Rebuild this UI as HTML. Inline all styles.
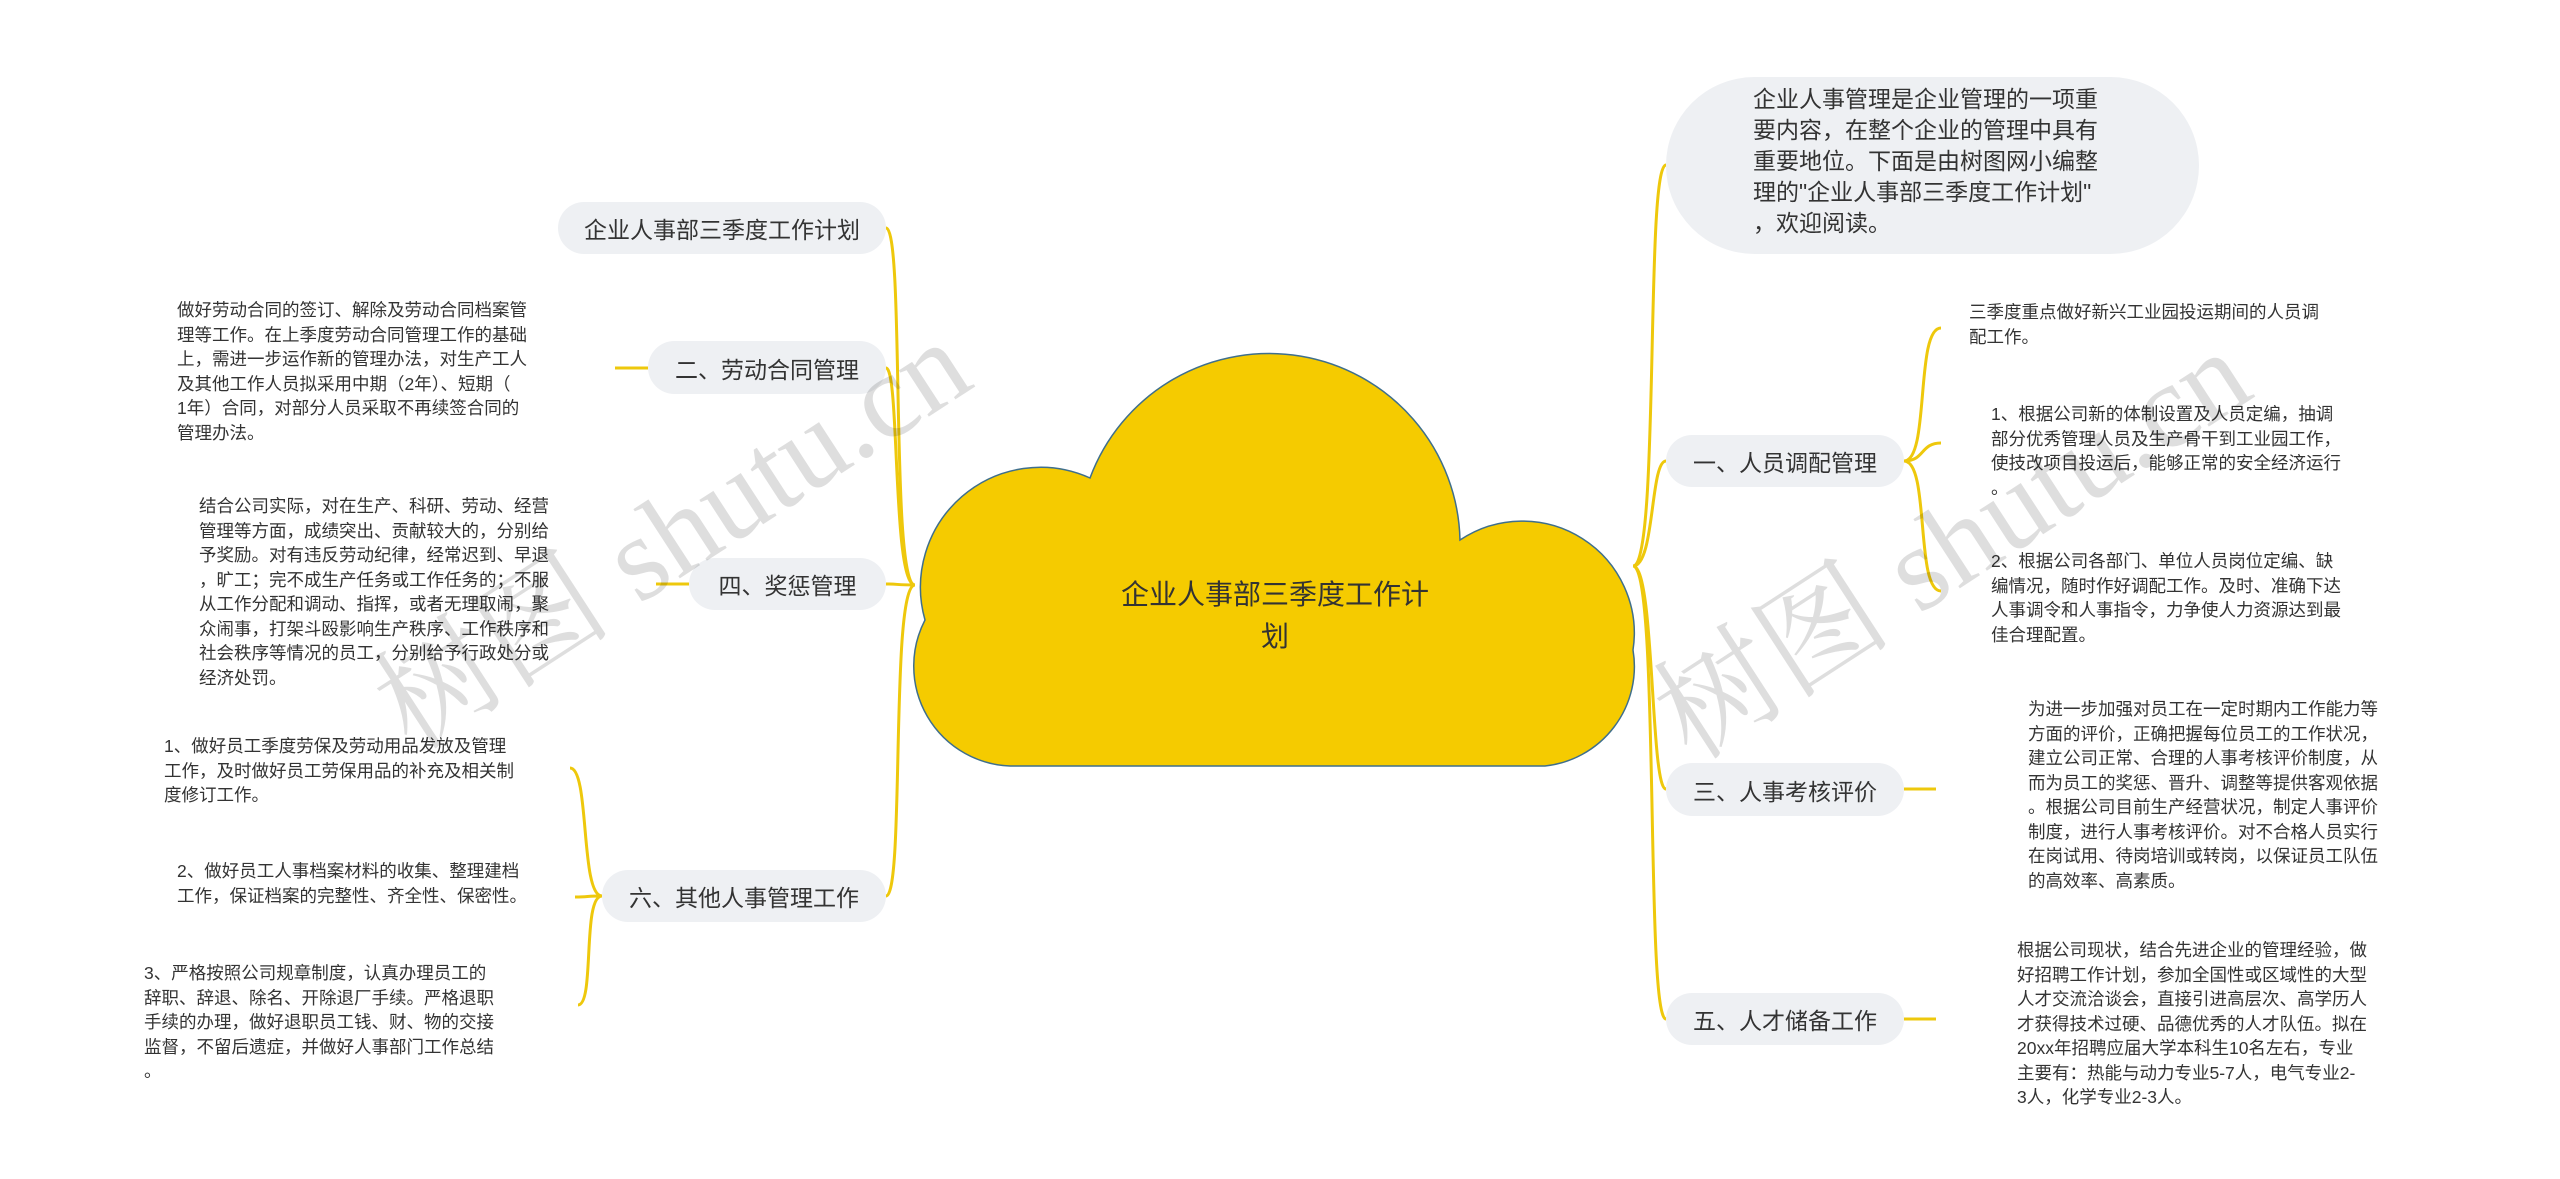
<!DOCTYPE html>
<html><head><meta charset="utf-8"><style>
html,body{margin:0;padding:0;background:#fff;}
body{width:2560px;height:1179px;position:relative;overflow:hidden;font-family:"Liberation Sans","Noto Sans CJK SC",sans-serif;color:#333;}
.pill{position:absolute;background:#eef0f3;border-radius:27px;font-size:23px;display:flex;align-items:center;justify-content:center;white-space:nowrap;}
.leaf{position:absolute;font-size:17.5px;line-height:24.5px;white-space:nowrap;color:#333;}
.wm{position:absolute;font-family:"Liberation Serif","Noto Serif CJK SC",serif;font-size:120px;color:rgba(0,0,0,0.13);white-space:nowrap;transform:rotate(-33deg);transform-origin:center;}
</style></head><body>
<svg width="2560" height="1179" style="position:absolute;left:0;top:0">
<g fill="none" stroke="#eec80c" stroke-width="3">
<path d="M915 585 C890 585, 905 228, 886 228"/>
<path d="M915 585 C892 585, 900 368, 886 368"/>
<path d="M915 585 C895 585, 900 584, 886 584"/>
<path d="M915 585 C890 585, 905 896, 886 896"/>
<path d="M615 368 L648 368"/>
<path d="M656 584 L689 584"/>
<path d="M602 896 C580 896, 590 768, 570 768"/>
<path d="M602 896 C585 896, 590 897, 575 897"/>
<path d="M602 896 C582 896, 595 1005, 578 1005"/>
<path d="M1633 566 C1660 566, 1645 165, 1666 165"/>
<path d="M1633 566 C1655 566, 1650 461, 1666 461"/>
<path d="M1633 566 C1655 566, 1650 789, 1666 789"/>
<path d="M1633 566 C1660 566, 1645 1019, 1666 1019"/>
<path d="M1904 461 C1930 461, 1915 328, 1941 328"/>
<path d="M1904 461 C1925 461, 1920 443, 1941 443"/>
<path d="M1904 461 C1930 461, 1915 591, 1941 591"/>
<path d="M1904 789 L1936 789"/>
<path d="M1904 1019 L1936 1019"/>
</g>
<path d="M1010 766 A100 100 0 0 1 925 620 A120 120 0 0 1 1090 478 A191 191 0 0 1 1460 540 A112 112 0 0 1 1633 650 A100 100 0 0 1 1545 766 Z" fill="#f5cb00" stroke="#3f6f8c" stroke-width="1.5"/>
</svg>
<div style="position:absolute;left:1075px;top:574px;width:400px;text-align:center;font-size:28px;line-height:42px;color:#333;">企业人事部三季度工作计<br>划</div>

<div class="pill" style="left:558px;top:202px;width:328px;height:52px;">企业人事部三季度工作计划</div>
<div class="pill" style="left:648px;top:341px;width:238px;height:53px;">二、劳动合同管理</div>
<div class="pill" style="left:689px;top:558px;width:197px;height:52px;">四、奖惩管理</div>
<div class="pill" style="left:602px;top:870px;width:284px;height:52px;">六、其他人事管理工作</div>

<div style="position:absolute;left:1666px;top:77px;width:533px;height:177px;background:#eef0f3;border-radius:90px;"></div>
<div style="position:absolute;left:1753px;top:84px;font-size:23px;line-height:31px;white-space:nowrap;">企业人事管理是企业管理的一项重<br>要内容，在整个企业的管理中具有<br>重要地位。下面是由树图网小编整<br>理的"企业人事部三季度工作计划"<br>，欢迎阅读。</div>

<div class="pill" style="left:1666px;top:435px;width:238px;height:52px;">一、人员调配管理</div>
<div class="pill" style="left:1666px;top:763px;width:238px;height:53px;">三、人事考核评价</div>
<div class="pill" style="left:1666px;top:993px;width:238px;height:52px;">五、人才储备工作</div>

<div class="leaf" style="left:177px;top:298px;">做好劳动合同的签订、解除及劳动合同档案管<br>理等工作。在上季度劳动合同管理工作的基础<br>上，需进一步运作新的管理办法，对生产工人<br>及其他工作人员拟采用中期（2年）、短期（<br>1年）合同，对部分人员采取不再续签合同的<br>管理办法。</div>
<div class="leaf" style="left:199px;top:494px;">结合公司实际，对在生产、科研、劳动、经营<br>管理等方面，成绩突出、贡献较大的，分别给<br>予奖励。对有违反劳动纪律，经常迟到、早退<br>，旷工；完不成生产任务或工作任务的；不服<br>从工作分配和调动、指挥，或者无理取闹，聚<br>众闹事，打架斗殴影响生产秩序、工作秩序和<br>社会秩序等情况的员工，分别给予行政处分或<br>经济处罚。</div>
<div class="leaf" style="left:164px;top:734px;">1、做好员工季度劳保及劳动用品发放及管理<br>工作，及时做好员工劳保用品的补充及相关制<br>度修订工作。</div>
<div class="leaf" style="left:177px;top:859px;">2、做好员工人事档案材料的收集、整理建档<br>工作，保证档案的完整性、齐全性、保密性。</div>
<div class="leaf" style="left:144px;top:961px;">3、严格按照公司规章制度，认真办理员工的<br>辞职、辞退、除名、开除退厂手续。严格退职<br>手续的办理，做好退职员工钱、财、物的交接<br>监督，不留后遗症，并做好人事部门工作总结<br>。</div>

<div class="leaf" style="left:1969px;top:300px;">三季度重点做好新兴工业园投运期间的人员调<br>配工作。</div>
<div class="leaf" style="left:1991px;top:402px;">1、根据公司新的体制设置及人员定编，抽调<br>部分优秀管理人员及生产骨干到工业园工作，<br>使技改项目投运后，能够正常的安全经济运行<br>。</div>
<div class="leaf" style="left:1991px;top:549px;">2、根据公司各部门、单位人员岗位定编、缺<br>编情况，随时作好调配工作。及时、准确下达<br>人事调令和人事指令，力争使人力资源达到最<br>佳合理配置。</div>
<div class="leaf" style="left:2028px;top:697px;">为进一步加强对员工在一定时期内工作能力等<br>方面的评价，正确把握每位员工的工作状况，<br>建立公司正常、合理的人事考核评价制度，从<br>而为员工的奖惩、晋升、调整等提供客观依据<br>。根据公司目前生产经营状况，制定人事评价<br>制度，进行人事考核评价。对不合格人员实行<br>在岗试用、待岗培训或转岗，以保证员工队伍<br>的高效率、高素质。</div>
<div class="leaf" style="left:2017px;top:938px;">根据公司现状，结合先进企业的管理经验，做<br>好招聘工作计划，参加全国性或区域性的大型<br>人才交流洽谈会，直接引进高层次、高学历人<br>才获得技术过硬、品德优秀的人才队伍。拟在<br>20xx年招聘应届大学本科生10名左右，专业<br>主要有：热能与动力专业5-7人，电气专业2-<br>3人，化学专业2-3人。</div>

<div class="wm" style="left:330px;top:440px;">树图 shutu.cn</div>
<div class="wm" style="left:1610px;top:450px;">树图 shutu.cn</div>
</body></html>
